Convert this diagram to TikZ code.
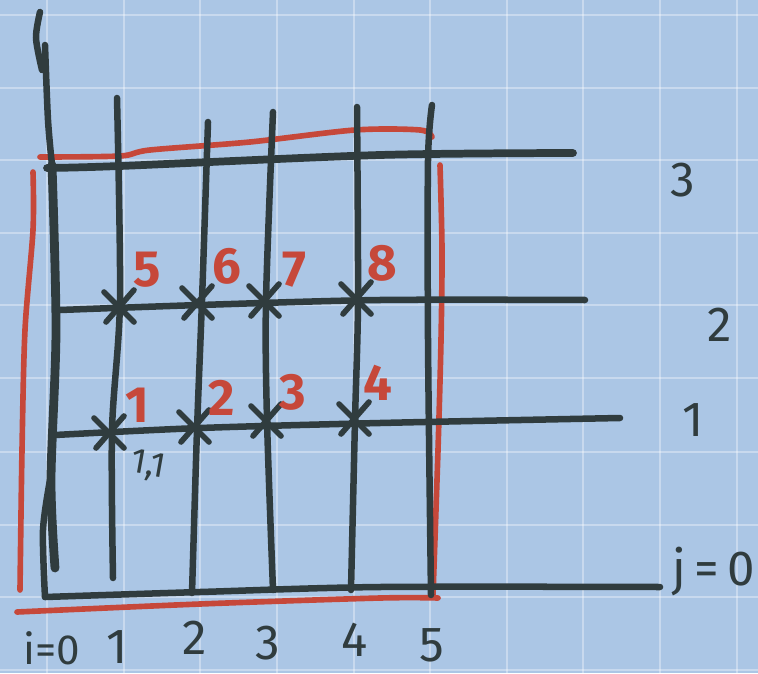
\documentclass[tikz,border=0pt]{standalone}
\usepackage{fontspec}
\setmainfont{Fira Sans}
\definecolor{paper}{RGB}{171,198,229}
\definecolor{ink}{RGB}{48,60,62}
\definecolor{redink}{RGB}{198,72,58}
\tikzset{
  pen/.style={ink,line width=1.85pt,line cap=round,line join=round},
  redpen/.style={redink,line width=1.6pt,line cap=round},
  num/.style={text=redink,font=\fontsize{14.5}{16}\selectfont\bfseries},
  idx/.style={text=ink,inner sep=1pt,font=\fontsize{14}{16}\selectfont},
}
\begin{document}
\begin{tikzpicture}[x=0.01cm,y=-0.01cm]
\fill[paper] (0,0) rectangle (758,673);
\useasboundingbox (0,0) rectangle (758,673);
% squared paper
\foreach \x in {47,124,200,277,354,430,507,583,660,737}
  \draw[white,opacity=.35,line width=.6pt] (\x,0) -- (\x,673);
\foreach \y in {15,88,160,233,305,378,452,525,597,670}
  \draw[white,opacity=.35,line width=.6pt] (0,\y) -- (758,\y);

% red frame
\draw[redpen] plot[smooth] coordinates {(40,157) (120,156) (150,150) (250,142) (355,130) (420,130) (432,137)};
\draw[redpen] plot[smooth] coordinates {(33,172) (33,230) (25,330) (22,450) (20,590)};
\draw[redpen] plot[smooth] coordinates {(17,612) (200,604) (380,598) (438,598)};
\draw[redpen] plot[smooth] coordinates {(440,165) (442,250) (441,340) (438,450) (433,595)};

% i=0 line
\draw[pen] plot[smooth] coordinates {(40,12) (36,38) (42,70)};
\draw[pen] plot[smooth] coordinates {(45,45) (48,120) (52,165)};
\draw[pen,line width=2.5pt] plot[smooth] coordinates {(52,165) (56,330) (51,480) (55,568)};
\draw[pen] plot[smooth] coordinates {(50,480) (43,530) (45,597)};

% vertical lines i=1..5
\draw[pen] plot[smooth] coordinates {(117,98) (120,300) (112,430) (113,578)};
\draw[pen] plot[smooth] coordinates {(208,122) (202,300) (197,430) (192,593)};
\draw[pen] plot[smooth] coordinates {(273,112) (266,300) (267,420) (273,590)};
\draw[pen] plot[smooth] coordinates {(357,107) (358,300) (355,420) (351,590)};
\draw[pen] plot[smooth] coordinates {(432,105) (428,160) (428,340) (431,595)};

% horizontal lines j=0..3
\draw[pen] plot[smooth] coordinates {(45,597) (200,592) (380,587) (660,587)};
\draw[pen,line width=2.2pt] plot[smooth] coordinates {(47,168) (120,166) (380,155) (573,153)};
\draw[pen] plot[smooth] coordinates {(60,310) (200,305) (380,300) (585,300)};
\draw[pen] plot[smooth] coordinates {(55,435) (200,428) (380,423) (620,418)};

% crosses
\foreach \x/\y in {120/306,198/302,265/300,357/298,110/432,195/426,267/420,355/418}
  \draw[pen,line width=1.6pt] (\x-16,\y-14) -- (\x+14,\y+16) (\x+14,\y-16) -- (\x-14,\y+16);

% red numbers
\foreach \x/\y/\t in {147/270/5,227/266/6,294/270/7,382/263/8,137/405/1,222/398/2,293/392/3,378/383/4}
  \node[num] (n\t) at (\x,\y) {\t};
\node[text=ink,font=\fontsize{10}{11}\selectfont,rotate=-10] (one) at (148,466) {1,1};

% index labels
\node[idx] (j3) at (683,180) {3};
\node[idx] (j2) at (720,325) {2};
\node[idx] (j1) at (693,420) {1};
\node[idx,anchor=west] (j0) at (668,572) {j\,=\,0};
\node[idx,font=\fontsize{12}{14}\selectfont] (i0) at (52,648) {i=0};
\node[idx] (i1) at (117,647) {1};
\node[idx] (i2) at (195,638) {2};
\node[idx] (i3) at (268,643) {3};
\node[idx] (i4) at (355,640) {4};
\node[idx] (i5) at (432,645) {5};
\end{tikzpicture}
\end{document}
